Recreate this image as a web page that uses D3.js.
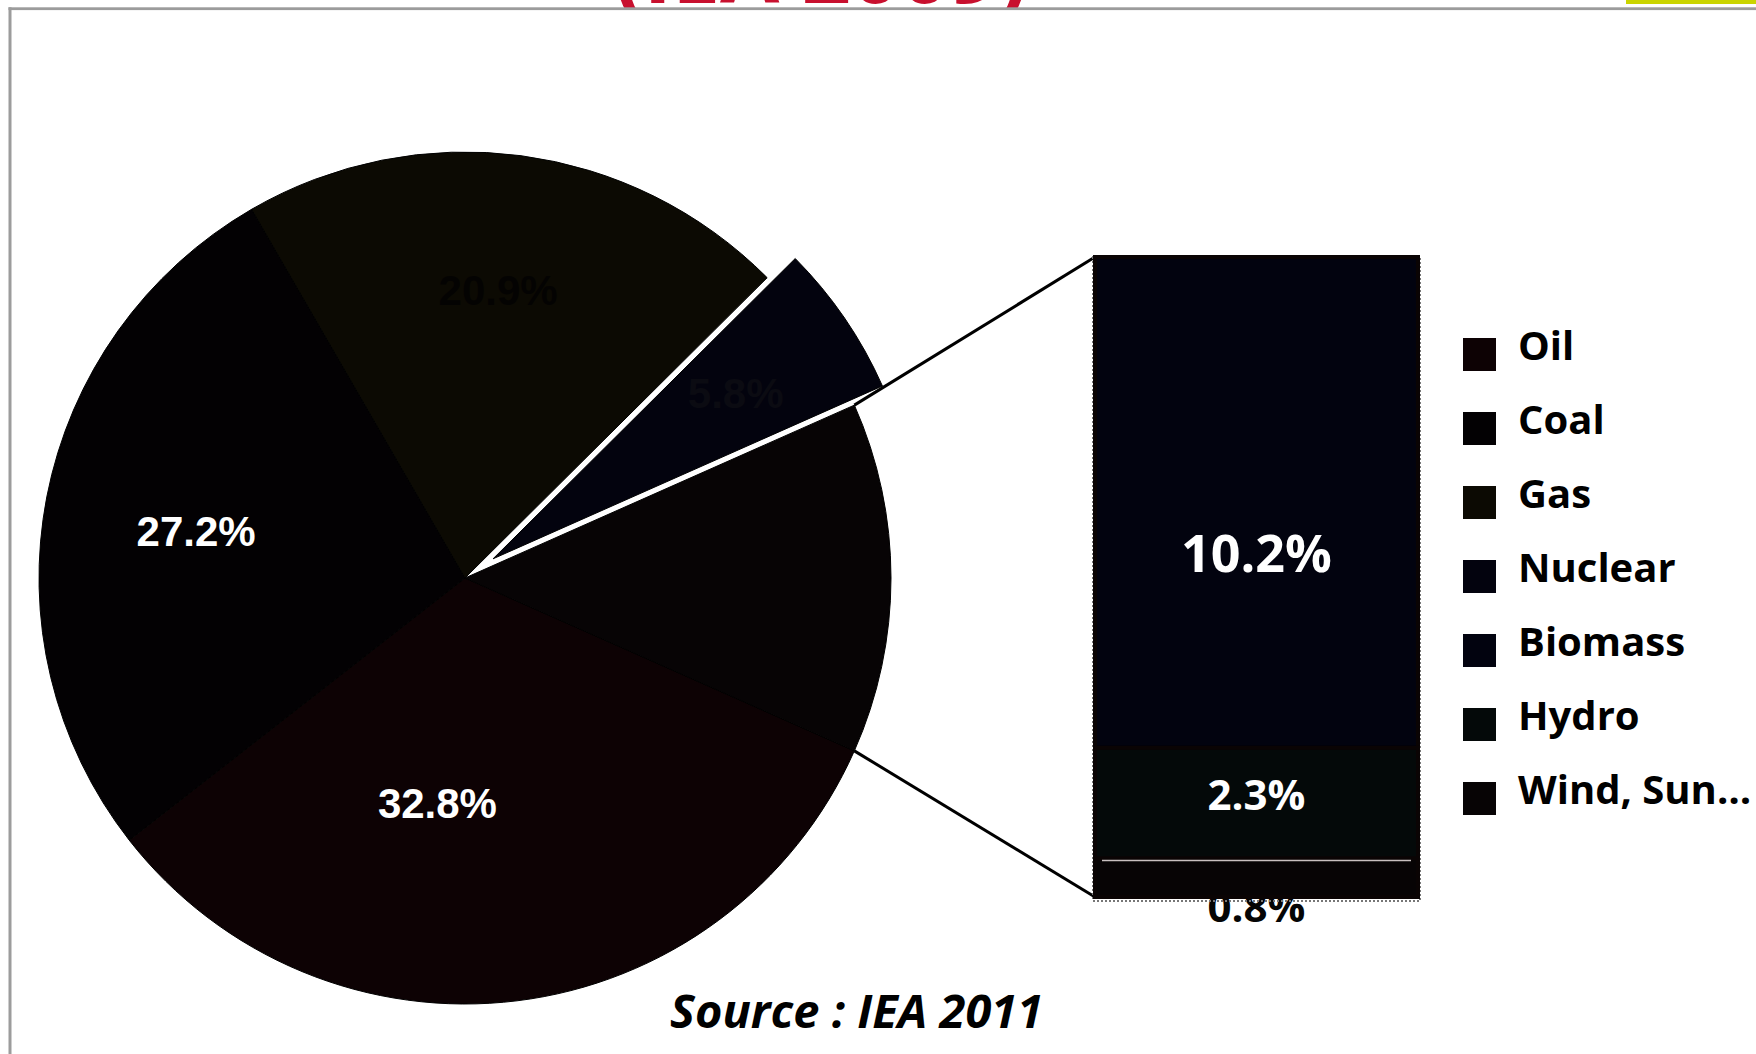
<!DOCTYPE html>
<html>
<head>
<meta charset="utf-8">
<script src="https://cdn.jsdelivr.net/npm/d3@7"></script>
<style>
  html, body { margin: 0; padding: 0; background: #fff; }
  svg { display: block; }
</style>
</head>
<body>
<svg id="chart" width="1756" height="1054"></svg>
<script>
// ---- data ----
const legendCategories = ["Oil", "Coal", "Gas", "Nuclear", "Biomass", "Hydro", "Wind, Sun…"];
const pieCategories = ["Oil", "Coal", "Gas", "Nuclear"];
const pieValues = [32.8, 27.2, 20.9, 5.8];
const barCategories = ["Biomass", "Hydro", "Wind, Sun…"];
const barValues = [10.2, 2.3, 0.8];
const titleText = "(IEA 2009)";
const sourceText = "Source : IEA 2011";

// ---- styles ----
const colors = {
  "Oil": "#0d0204", "Coal": "#030103", "Gas": "#0c0a03", "Nuclear": "#03030e",
  "Other": "#070405", "Biomass": "#02030f", "Hydro": "#040909", "Wind, Sun…": "#070405"
};
const fmt = v => d3.format(".1f")(v) + "%";

const svg = d3.select("#chart");
const W = 1756, H = 1054;

// title (mostly clipped by the frame, as in the reference)
svg.append("text")
  .attr("x", 821).attr("y", 3)
  .attr("text-anchor", "middle")
  .attr("font-family", "'Open Sans', sans-serif")
  .attr("font-weight", 700)
  .attr("font-size", 86)
  .attr("fill", "#c8102e")
  .text(titleText);
svg.append("rect").attr("x", 1626).attr("y", 0).attr("width", 130).attr("height", 4).attr("fill", "#cad400");
svg.append("rect").attr("x", 0).attr("y", 9).attr("width", W).attr("height", H - 9).attr("fill", "#fff");
svg.append("rect").attr("x", 8.5).attr("y", 7.3).attr("width", W - 8.5).attr("height", 2.8).attr("fill", "#9c9c9c");
svg.append("rect").attr("x", 8.5).attr("y", 7.3).attr("width", 3).attr("height", H - 7.3).attr("fill", "#9c9c9c");

// ---- pie ----
const cx = 465, cy = 578, R = 426;
const otherTotal = d3.sum(barValues);
const pieData = pieCategories.map((c, i) => ({ name: c, value: pieValues[i] }))
  .concat([{ name: "Other", value: otherTotal }]);
const total = d3.sum(pieData, d => d.value);
const otherSpan = otherTotal / total * 2 * Math.PI;
const start = Math.PI / 2 + otherSpan / 2;

const pie = d3.pie().sort(null).value(d => d.value).startAngle(start).endAngle(start + 2 * Math.PI);
const arcs = pie(pieData);
const arc = d3.arc().innerRadius(0).outerRadius(R);
const explode = { "Nuclear": 34 };

const gPie = svg.append("g").attr("transform", `translate(${cx},${cy})`);
gPie.selectAll("path.slice").data(arcs).enter().append("path")
  .attr("class", "slice")
  .attr("d", arc)
  .attr("fill", d => colors[d.data.name])
  .attr("stroke", "#000")
  .attr("stroke-width", 1)
  .attr("transform", d => {
    const e = explode[d.data.name] || 0;
    const m = (d.startAngle + d.endAngle) / 2;
    return `translate(${e * Math.sin(m)},${-e * Math.cos(m)})`;
  });

// pie labels
const labelLayout = {
  "Oil": { da: 14, r: 227, fill: "#fff" },
  "Coal": { da: -1, r: 273, fill: "#fff" },
  "Gas": { da: -1, r: 290, fill: "#040302" },
  "Nuclear": { da: 0, r: 294, fill: "#0b0b12" }
};
gPie.selectAll("text.plabel").data(arcs.filter(d => d.data.name !== "Other")).enter().append("text")
  .attr("class", "plabel")
  .each(function (d) {
    const L = labelLayout[d.data.name];
    const e = explode[d.data.name] || 0;
    const m = (d.startAngle + d.endAngle) / 2 + L.da * Math.PI / 180;
    const rr = L.r + e;
    d3.select(this).attr("x", rr * Math.sin(m)).attr("y", -rr * Math.cos(m) + 15).attr("fill", L.fill);
  })
  .attr("text-anchor", "middle")
  .attr("font-family", "'Liberation Sans', Arial, sans-serif")
  .attr("font-weight", 700)
  .attr("font-size", 42)
  .text(d => fmt(d.data.value));

// ---- bar of pie ----
const bx0 = 1095, bx1 = 1418;
const y = d3.scaleLinear().domain([0, otherTotal]).range([257, 897]);
const stack = [];
let acc = 0;
barCategories.forEach((c, i) => { stack.push({ name: c, value: barValues[i], y0: acc, y1: acc + barValues[i] }); acc += barValues[i]; });

const otherArc = arcs.find(d => d.data.name === "Other");
const topCorner = [cx + R * Math.sin(otherArc.startAngle), cy - R * Math.cos(otherArc.startAngle)];
const botCorner = [cx + R * Math.sin(otherArc.endAngle), cy - R * Math.cos(otherArc.endAngle)];
svg.append("line").attr("x1", topCorner[0]).attr("y1", topCorner[1]).attr("x2", bx0).attr("y2", y(0))
  .attr("stroke", "#000").attr("stroke-width", 3);
svg.append("line").attr("x1", botCorner[0]).attr("y1", botCorner[1]).attr("x2", bx0).attr("y2", y(otherTotal))
  .attr("stroke", "#000").attr("stroke-width", 3);

// label below the bar (drawn first, partially covered)
const last = stack[stack.length - 1];
svg.append("text")
  .attr("x", (bx0 + bx1) / 2).attr("y", 922)
  .attr("text-anchor", "middle")
  .attr("font-family", "'Open Sans', sans-serif")
  .attr("font-weight", 700).attr("font-size", 42)
  .attr("fill", "#050505")
  .text(fmt(last.value));

svg.append("rect")
  .attr("x", bx0 - 2).attr("y", y(0)).attr("width", bx1 - bx0 + 4).attr("height", y(otherTotal) - y(0) + 4)
  .attr("fill", "none").attr("stroke", "#777").attr("stroke-width", 2).attr("stroke-dasharray", "2,2");

svg.selectAll("rect.seg").data(stack).enter().append("rect")
  .attr("class", "seg")
  .attr("x", bx0).attr("width", bx1 - bx0)
  .attr("y", d => y(d.y0)).attr("height", d => y(d.y1) - y(d.y0))
  .attr("fill", d => colors[d.name])
  .attr("stroke", "#0a0404").attr("stroke-width", 4);

// light separator line at top of last segment
svg.append("line").attr("x1", bx0 + 7).attr("x2", bx1 - 7).attr("y1", y(last.y0) + 2).attr("y2", y(last.y0) + 2)
  .attr("stroke", "#c8c0c0").attr("stroke-width", 1.5);

// bar labels
const barLabelStyle = { "Biomass": { size: 52, dy: 70 }, "Hydro": { size: 42, dy: 7 } };
svg.selectAll("text.blabel").data(stack.filter(d => barLabelStyle[d.name])).enter().append("text")
  .attr("class", "blabel")
  .attr("x", (bx0 + bx1) / 2)
  .attr("y", d => (y(d.y0) + y(d.y1)) / 2 + barLabelStyle[d.name].dy)
  .attr("text-anchor", "middle")
  .attr("font-family", "'Open Sans', sans-serif")
  .attr("font-weight", 700)
  .attr("font-size", d => barLabelStyle[d.name].size)
  .attr("fill", "#fff")
  .text(d => fmt(d.value));

// ---- legend ----
const legend = svg.append("g");
const lg = legend.selectAll("g").data(legendCategories).enter().append("g")
  .attr("transform", (d, i) => `translate(1463,${338 + i * 74})`);
lg.append("rect").attr("width", 33).attr("height", 33).attr("fill", d => colors[d]);
lg.append("text").attr("x", 55).attr("y", 22)
  .attr("font-family", "'Open Sans', sans-serif")
  .attr("font-weight", 700).attr("font-size", 40)
  .attr("fill", "#000")
  .text(d => d);

// ---- source ----
svg.append("text")
  .attr("x", 670).attr("y", 1028)
  .attr("font-family", "'Open Sans', sans-serif")
  .attr("font-weight", 700).attr("font-style", "italic")
  .attr("font-size", 47)
  .attr("fill", "#000")
  .text(sourceText);
</script>
</body>
</html>
